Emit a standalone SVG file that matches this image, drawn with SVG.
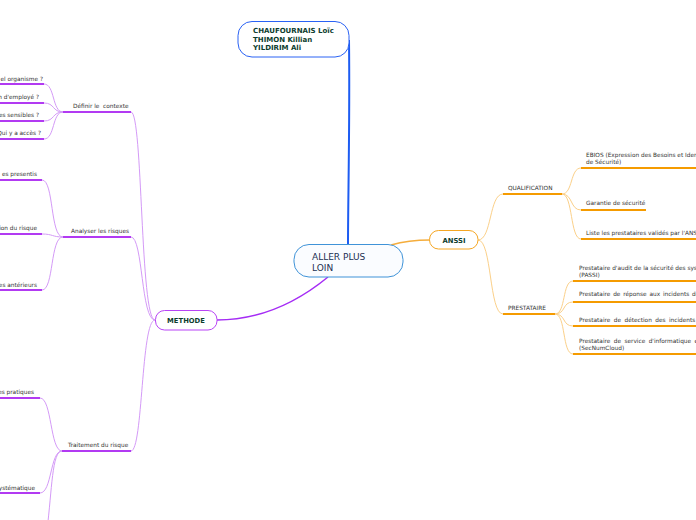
<svg xmlns="http://www.w3.org/2000/svg" width="696" height="520" viewBox="0 0 696 520">
<style>
.lbl{font-family:"DejaVu Sans",Verdana,sans-serif;font-size:5.8px;fill:#333;white-space:pre}
.end{text-anchor:end}
.pu{stroke:#b23af2;stroke-width:2;fill:none}
.pc{stroke:#d49af7;stroke-width:1;fill:none}
.ou{stroke:#f59b00;stroke-width:2;fill:none}
.oc{stroke:#fbd089;stroke-width:1;fill:none}
.bold{font-family:"DejaVu Sans",Verdana,sans-serif;font-weight:bold;fill:#0d3d2e}
</style>
<rect width="696" height="520" fill="#fff"/>
<g id="connectors">
  <path d="M349,40 C350,120 348,200 348,244" stroke="#1d5cf2" stroke-width="2" fill="none"/>
  <path d="M391,245 C405,241 415,240 430,240" stroke="#f5ad3c" stroke-width="1.5" fill="none"/>
  <path d="M217,320 C262,320 300,300 328,277" stroke="#a52cf5" stroke-width="1.5" fill="none"/>
  <path class="pc" d="M155,320 C140,320 143,112 131,112"/>
  <path class="pc" d="M155,320 C141,320 143,237 131,237"/>
  <path class="pc" d="M155,320 C141,320 143,451 131,451"/>
  <path class="pc" d="M63,112 C52,112 55,84 44,84"/>
  <path class="pc" d="M63,112 C52,112 55,103 44,103"/>
  <path class="pc" d="M63,112 C52,112 55,121 44,121"/>
  <path class="pc" d="M63,112 C52,112 55,139 44,139"/>
  <path class="pc" d="M63,237 C50,237 54,180 42,180"/>
  <path class="pc" d="M63,237 C52,237 53,234 42,234"/>
  <path class="pc" d="M63,237 C50,237 54,290 42,290"/>
  <path class="pc" d="M62,451 C50,451 52,398 40,398"/>
  <path class="pc" d="M62,451 C50,451 52,493 40,493"/>
  <path class="pc" d="M62,451 C52,451 52,490 47,530"/>
  <path class="oc" d="M478,240 C492,240 489,194 503,194"/>
  <path class="oc" d="M478,240 C492,240 489,314 503,314"/>
  <path class="oc" d="M562,194 C573,194 570,168 581,168"/>
  <path class="oc" d="M562,194 C573,194 570,210 581,210"/>
  <path class="oc" d="M562,194 C573,194 570,239 581,239"/>
  <path class="oc" d="M555,314 C566,314 562,281 573,281"/>
  <path class="oc" d="M555,314 C566,314 562,302 573,302"/>
  <path class="oc" d="M555,314 C566,314 562,326 573,326"/>
  <path class="oc" d="M555,314 C566,314 562,354 573,354"/>
</g>
<g id="authors">
  <rect x="238" y="21.5" width="111" height="35.5" rx="14" fill="#fff" stroke="#2a62f4" stroke-width="1"/>
  <text class="bold" font-size="7" x="253" y="32.5">CHAUFOURNAIS Loïc</text>
  <text class="bold" font-size="7" x="253" y="41.5">THIMON Killian</text>
  <text class="bold" font-size="7" x="253" y="50">YILDIRIM Ali</text>
</g>
<g id="center">
  <rect x="294" y="244.5" width="109" height="32.5" rx="15" fill="#fafcff" stroke="#3f93d8" stroke-width="1"/>
  <text x="312" y="259.5" font-family="DejaVu Sans,Verdana,sans-serif" font-size="9" fill="#1c2f52">ALLER PLUS</text>
  <text x="312" y="270.5" font-family="DejaVu Sans,Verdana,sans-serif" font-size="9" fill="#1c2f52">LOIN</text>
</g>
<g id="anssi">
  <rect x="429.5" y="230.5" width="48.5" height="18.5" rx="9" fill="#fff" stroke="#f5a623" stroke-width="1"/>
  <text class="bold" font-size="6.8" x="454" y="242.5" text-anchor="middle">ANSSI</text>
</g>
<g id="methode">
  <rect x="155.5" y="310.5" width="61.5" height="19.5" rx="9" fill="#fff" stroke="#b844f5" stroke-width="1"/>
  <text class="bold" font-size="6.8" x="186" y="323" text-anchor="middle">METHODE</text>
</g>
<g id="qualification">
  <path class="ou" d="M503,194 H562"/>
  <text class="lbl" x="508" y="190">QUALIFICATION</text>
</g>
<g id="prestataire">
  <path class="ou" d="M503,314 H555"/>
  <text class="lbl" x="508" y="310">PRESTATAIRE</text>
</g>
<g id="ebios">
  <path class="ou" d="M581,168 H696"/>
  <text class="lbl" x="586" y="157">EBIOS (Expression des Besoins et Identification</text>
  <text class="lbl" x="586" y="164">de Sécurité)</text>
</g>
<g id="garantie">
  <path class="ou" d="M581,210 H646"/>
  <text class="lbl" x="586" y="205">Garantie de sécurité</text>
</g>
<g id="liste">
  <path class="ou" d="M581,239 H696"/>
  <text class="lbl" x="586" y="235">Liste les prestataires validés par l'ANSSI</text>
</g>
<g id="passi">
  <path class="ou" d="M573,281 H696"/>
  <text class="lbl" x="579" y="270">Prestataire d'audit de la sécurité des systèmes</text>
  <text class="lbl" x="579" y="277">(PASSI)</text>
</g>
<g id="pris">
  <path class="ou" d="M573,302 H696"/>
  <text class="lbl" x="579" y="296" word-spacing="1">Prestataire de réponse aux incidents de sécurité</text>
</g>
<g id="pdis">
  <path class="ou" d="M573,326 H696"/>
  <text class="lbl" x="579" y="322" word-spacing="1.6">Prestataire de détection des incidents de sécurité</text>
</g>
<g id="secnum">
  <path class="ou" d="M573,354 H696"/>
  <text class="lbl" x="579" y="343" word-spacing="1.6">Prestataire de service d'informatique en nuage</text>
  <text class="lbl" x="579" y="350">(SecNumCloud)</text>
</g>
<g id="definir">
  <path class="pu" d="M63,112 H131"/>
  <text class="lbl" x="73" y="108">Définir le  contexte</text>
</g>
<g id="analyser">
  <path class="pu" d="M63,237 H131"/>
  <text class="lbl" x="71" y="233">Analyser les risques</text>
</g>
<g id="traitement">
  <path class="pu" d="M62,451 H131"/>
  <text class="lbl" x="68" y="447">Traitement du risque</text>
</g>
<g id="d1"><path class="pu" d="M0,84 H44"/><text class="lbl end" x="43" y="81">el organisme ?</text></g>
<g id="d2"><path class="pu" d="M0,103 H44"/><text class="lbl end" x="39" y="99">n d'employé ?</text></g>
<g id="d3"><path class="pu" d="M0,121 H44"/><text class="lbl end" x="39" y="117">ies sensibles ?</text></g>
<g id="d4"><path class="pu" d="M0,139 H44"/><text class="lbl end" x="41" y="135">Qui y a accès ?</text></g>
<g id="a1"><path class="pu" d="M0,180 H42"/><text class="lbl end" x="37" y="176">es presentis</text></g>
<g id="a2"><path class="pu" d="M0,234 H42"/><text class="lbl end" x="37" y="230">ion du risque</text></g>
<g id="a3"><path class="pu" d="M0,290 H42"/><text class="lbl end" x="37" y="287">es antérieurs</text></g>
<g id="t1"><path class="pu" d="M0,398 H40"/><text class="lbl end" x="34" y="394">es pratiques</text></g>
<g id="t2"><path class="pu" d="M0,493 H40"/><text class="lbl end" x="35" y="490">ystématique</text></g>
</svg>
